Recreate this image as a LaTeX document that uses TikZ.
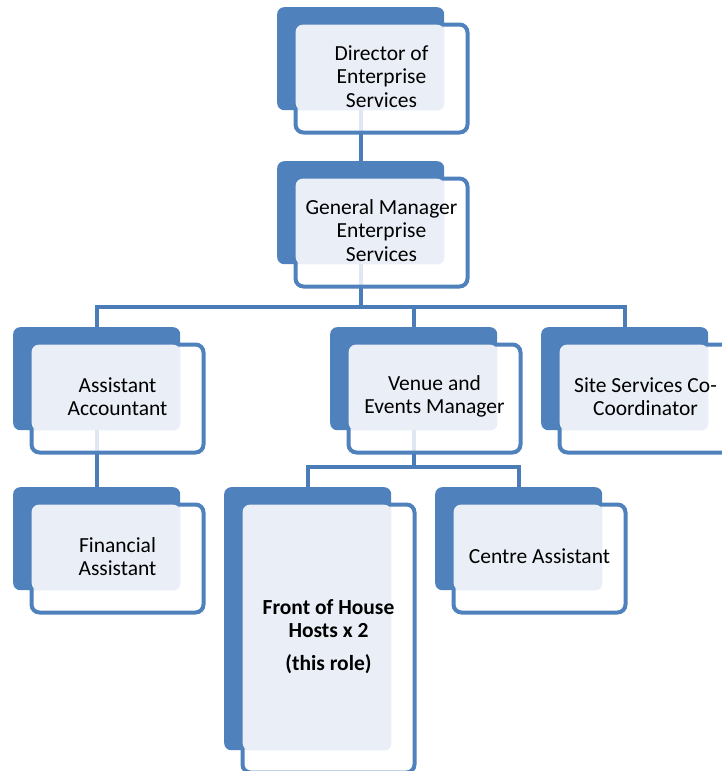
\documentclass[tikz,border=0pt]{standalone}
\usepackage{fontspec}
\setmainfont{Carlito}
\usetikzlibrary{backgrounds}
\definecolor{boxblue}{HTML}{4F81BD}
\definecolor{lineblue}{HTML}{4A7CB8}
\definecolor{lightfill}{HTML}{EAEFF7}
\tikzset{
  darkbox/.style={rectangle, rounded corners=7pt, fill=boxblue, draw=none, inner sep=0pt, anchor=north west, minimum width=167pt},
  whitebox/.style={rectangle, rounded corners=8pt, fill=white, fill opacity=0.82, draw=boxblue, draw opacity=1, line width=4pt, inner sep=0pt, anchor=north west, minimum width=172pt},
  lightbox/.style={rectangle, rounded corners=7pt, fill=lightfill, draw=none, inner sep=0pt, anchor=south east, minimum width=148.5pt},
  conn/.style={draw=lineblue, line width=4pt},
  lbl/.style={align=center, text=black, inner sep=0pt, font=\fontsize{21.5}{23.5}\selectfont}
}
% name, x, y, dark height, white height, text
\newcommand{\orgbox}[6]{%
  \node[darkbox, minimum height=#4pt] (#1d) at (#2,#3) {};
  \node[whitebox, minimum height=#5pt] (#1w) at ([shift={(16.5,15.5)}]#1d.north west) {};
  \node[lightbox, minimum height=#4pt-17.5pt] (#1l) at (#1d.south east) {};
  \node[lbl] (#1t) at ([yshift=2pt]#1w.center) {#6};
}
\begin{document}
\begin{tikzpicture}[x=1pt, y=-1pt]
\useasboundingbox (0,0) rectangle (721,771);

\orgbox{dir}{277}{7}{103}{108}{Director of\\Enterprise\\Services}
\orgbox{gm}{277}{161}{103}{108}{General Manager\\Enterprise\\Services}
\orgbox{aa}{13}{327}{103}{108}{Assistant\\Accountant}
\orgbox{ve}{330}{327}{103}{108}{Venue and\\Events Manager}
\orgbox{ss}{541}{327}{103}{108}{Site Services Co-\\Coordinator}
\orgbox{fa}{13}{487}{103}{108}{Financial\\Assistant}
\orgbox{fh}{224}{487}{263}{268}{\bfseries Front of House\\\bfseries Hosts x 2\\[9pt]\bfseries (this role)}
\orgbox{ca}{435}{487}{103}{108}{Centre Assistant}

\coordinate (bus) at (0,307);
\coordinate (bus2) at (0,467);
\begin{scope}[on background layer]
  \fill[white] (0,0) rectangle (721,771);
  \draw[conn] (dird.south) -- (gmd.north);
  \draw[conn] (gmd.south) -- (gmd.south |- bus);
  \draw[conn] (aad.north) |- (ssd.north |- bus) -- (ssd.north);
  \draw[conn] (ved.north) -- (ved.north |- bus);
  \draw[conn] (aad.south) -- (fad.north);
  \draw[conn] (ved.south) -- (ved.south |- bus2);
  \draw[conn] (fhd.north) |- (cad.north |- bus2) -- (cad.north);
\end{scope}
\end{tikzpicture}
\end{document}
